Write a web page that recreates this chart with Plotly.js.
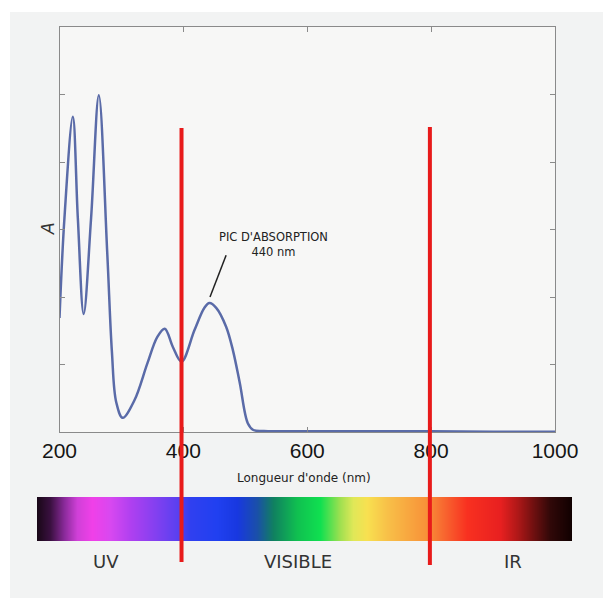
<!DOCTYPE html>
<html>
<head>
<meta charset="utf-8">
<script src="https://cdn.plot.ly/plotly-3.0.1.min.js"></script>
<style>
  html, body { margin: 0; padding: 0; background: #ffffff; }
  #wrap { position: relative; width: 603px; height: 598px; }
  #panel { position: absolute; left: 10px; top: 12px; right: 0; bottom: 0; background: #f2f3f3; }
  #chart { position: absolute; left: 0; top: 0; width: 603px; height: 598px; }
</style>
</head>
<body>
<div id="wrap"><div id="panel"></div><div id="chart"></div></div>
<script>
// Absorption spectrum (wavelength in nm, absorbance in axis units)
const wavelength = [200, 208, 221.5, 229.6, 239, 251, 263.5, 277, 284.6, 291.6, 302, 321, 342, 358, 370, 383, 397, 418, 434, 442, 453, 469, 480, 491, 504, 513, 530, 600, 700, 800, 900, 1000];
const absorbance = [1.69, 3.17, 4.67, 3.17, 1.75, 3.17, 4.99, 2.67, 1.19, 0.44, 0.21, 0.47, 1.02, 1.41, 1.53, 1.26, 1.04, 1.51, 1.84, 1.91, 1.84, 1.56, 1.21, 0.73, 0.13, 0.03, 0.015, 0.01, 0.01, 0.01, 0.005, 0.005];

// Axis ticks
const xTicks = [200, 400, 600, 800, 1000];
const xTickLabels = ['200', '400', '600', '800', '1000'];

// Region boundaries (red lines) as drawn
const regionBounds = [397, 798];
const regionLabels = ['UV', 'VISIBLE', 'IR'];

// Peak annotation
const peakLabel = "PIC D'ABSORPTION<br>440 nm";
const peakPointer = { x0: 469, y0: 2.62, x1: 443, y1: 2.0 };

// Spectrum colour bar stops (relative position along the bar, colour)
const spectrumPos = [0, 0.024, 0.05, 0.075, 0.103, 0.136, 0.174, 0.224, 0.262, 0.286, 0.336, 0.374, 0.411, 0.441, 0.486, 0.529, 0.566, 0.59, 0.617, 0.654, 0.692, 0.729, 0.759, 0.804, 0.865, 0.897, 0.927, 0.959, 1];
const spectrumCol = ['#1a0818', '#3a1040', '#8a2a9a', '#d040d8', '#f040e8', '#d848f0', '#b040f0', '#8040f0', '#5a40f0', '#3040f0', '#2040f0', '#1838e0', '#1a50a8', '#108060', '#10c050', '#10e050', '#a0e050', '#e0e858', '#f8e050', '#f8c048', '#f8a840', '#f89038', '#f86830', '#f83020', '#e82020', '#b01818', '#701010', '#300808', '#100000'];

const W = 603, H = 598;
const px = v => v / W;
const py = v => (H - v) / H;

const spectrumScale = spectrumPos.map((p, i) => [p, spectrumCol[i]]);

const traces = [
  {
    type: 'scatter', mode: 'lines',
    x: wavelength, y: absorbance,
    line: { color: '#5a6ba8', width: 2.5, shape: 'spline', smoothing: 1 },
    hoverinfo: 'x+y', showlegend: false,
    xaxis: 'x', yaxis: 'y'
  },
  {
    type: 'heatmap',
    x: spectrumPos, y: [0], z: [spectrumPos],
    colorscale: spectrumScale, zmin: 0, zmax: 1,
    zsmooth: 'best', showscale: false, hoverinfo: 'skip',
    xaxis: 'x2', yaxis: 'y2'
  }
];

const axisFrame = {
  showline: true, linecolor: '#8a8a8a', linewidth: 1, mirror: 'ticks',
  ticks: 'inside', ticklen: 5, tickcolor: '#8a8a8a', tickwidth: 1,
  showgrid: false, zeroline: false, fixedrange: true
};

const layout = {
  width: W, height: H,
  margin: { l: 0, r: 0, t: 0, b: 0, autoexpand: false },
  paper_bgcolor: 'rgba(0,0,0,0)',
  plot_bgcolor: '#f7f7f6',
  showlegend: false,
  xaxis: Object.assign({}, axisFrame, {
    domain: [px(59.5), px(555)], anchor: 'y',
    range: [200, 1000], tickvals: xTicks, ticktext: xTickLabels,
    tickfont: { family: 'Liberation Sans, Arial, sans-serif', size: 21, color: '#151515' }
  }),
  yaxis: Object.assign({}, axisFrame, {
    domain: [py(432), py(27)], anchor: 'x',
    range: [0, 6], dtick: 1, showticklabels: false
  }),
  xaxis2: { domain: [px(37), px(572)], anchor: 'y2', range: [0, 1], visible: false, fixedrange: true },
  yaxis2: { domain: [py(541), py(497)], anchor: 'x2', range: [-0.5, 0.5], visible: false, fixedrange: true },
  shapes: [
    { type: 'line', xref: 'x', yref: 'paper', x0: regionBounds[0], x1: regionBounds[0], y0: py(562), y1: py(128),
      line: { color: '#e81a1a', width: 4 } },
    { type: 'line', xref: 'x', yref: 'paper', x0: regionBounds[1], x1: regionBounds[1], y0: py(565), y1: py(127),
      line: { color: '#e81a1a', width: 4 } },
    { type: 'line', xref: 'x', yref: 'y', x0: peakPointer.x0, y0: peakPointer.y0, x1: peakPointer.x1, y1: peakPointer.y1,
      line: { color: '#222222', width: 1.5 } }
  ],
  annotations: [
    { xref: 'paper', yref: 'paper', x: px(48), y: py(229), text: '<i>A</i>', textangle: -90, showarrow: false,
      xanchor: 'center', yanchor: 'middle', font: { family: 'DejaVu Sans, sans-serif', size: 17, color: '#333' } },
    { xref: 'paper', yref: 'paper', x: px(273), y: py(245), text: peakLabel, showarrow: false,
      xanchor: 'center', yanchor: 'middle', align: 'center',
      font: { family: 'DejaVu Sans, sans-serif', size: 11.5, color: '#222' } },
    { xref: 'paper', yref: 'paper', x: px(304), y: py(478), text: "Longueur d'onde (nm)", showarrow: false,
      xanchor: 'center', yanchor: 'middle', font: { family: 'DejaVu Sans, sans-serif', size: 12, color: '#222' } },
    { xref: 'paper', yref: 'paper', x: px(106), y: py(561), text: regionLabels[0], showarrow: false,
      xanchor: 'center', yanchor: 'middle', font: { family: 'DejaVu Sans, sans-serif', size: 18, color: '#333' } },
    { xref: 'paper', yref: 'paper', x: px(298), y: py(561), text: regionLabels[1], showarrow: false,
      xanchor: 'center', yanchor: 'middle', font: { family: 'DejaVu Sans, sans-serif', size: 18, color: '#333' } },
    { xref: 'paper', yref: 'paper', x: px(513), y: py(561), text: regionLabels[2], showarrow: false,
      xanchor: 'center', yanchor: 'middle', font: { family: 'DejaVu Sans, sans-serif', size: 18, color: '#333' } }
  ]
};

Plotly.newPlot('chart', traces, layout, { displayModeBar: false, staticPlot: true });
</script>
</body>
</html>
